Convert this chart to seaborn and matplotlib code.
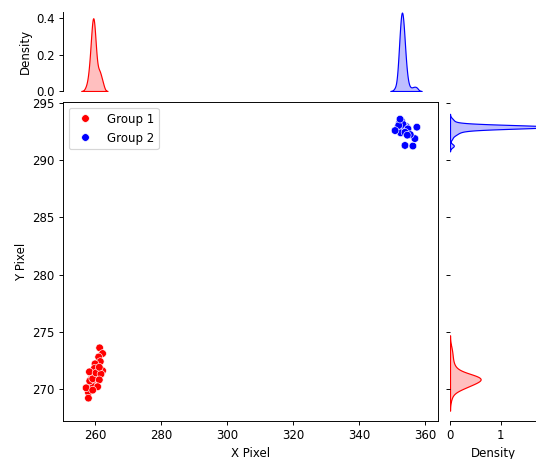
import pandas as pd
import matplotlib
matplotlib.use("Agg")
import matplotlib.pyplot as plt
import seaborn as sns

# =====================
# Data (pixel positions of two tracked groups)
# =====================
group_names = ["Group 1", "Group 2"]
group_colors = ["red", "blue"]

red_x = [259.5, 259.0, 259.8, 258.7, 259.3, 260.1, 259.6, 258.9, 259.4, 260.3,
         259.1, 259.7, 258.5, 259.9, 259.2, 260.0, 258.8, 259.5, 259.3, 260.5,
         259.0, 259.7, 258.6, 259.4, 260.2, 259.1, 259.8, 258.9, 259.6, 259.2,
         260.6, 259.5, 258.4, 259.9, 259.3,
         261.4, 262.3, 261.1, 261.6, 260.0, 259.8, 262.3, 258.3, 260.3, 261.8, 261.3,
         258.0, 257.3, 261.3, 258.0, 260.8, 259.3]
red_y = [271.0, 270.5, 270.9, 270.3, 271.1, 270.9, 270.4, 270.8, 271.0, 271.2,
         270.2, 271.0, 270.6, 270.5, 270.9, 271.1, 270.1, 270.8, 270.3, 271.0,
         270.9, 271.2, 270.4, 270.7, 270.8, 271.0, 270.3, 270.9, 271.1, 270.6,
         270.9, 270.2, 270.7, 271.0, 270.9,
         273.6, 273.1, 272.8, 272.4, 272.2, 271.8, 271.6, 271.5, 271.4, 271.3, 271.9,
         269.7, 270.1, 270.8, 269.2, 270.2, 269.9]

blue_x = [353.1, 352.4, 353.8, 352.9, 353.3, 351.9, 353.6, 352.7, 353.0, 354.2,
          352.2, 353.4, 352.8, 353.2, 352.5, 353.9, 352.6, 353.0, 353.5, 352.3,
          353.7, 352.9, 353.1, 352.0, 354.0, 352.7, 353.3, 352.5, 353.6, 352.8,
          353.2, 351.8, 354.3, 353.0, 352.6, 353.4, 352.1, 353.8, 352.9, 353.5,
          352.4, 353.1, 352.8, 353.3, 352.6, 353.0, 353.7, 352.3, 353.2, 352.9,
          352.2, 353.6, 352.9, 351.7, 354.4, 352.6, 353.3, 354.8, 352.0, 353.9,
          357.5, 353.9, 356.3, 356.9, 355.5, 354.6, 350.9, 352.4]
blue_y = [292.93, 292.95, 292.90, 292.97, 292.92, 292.94, 292.88, 292.96, 292.91, 292.93,
          292.89, 292.95, 292.92, 292.98, 292.90, 292.94, 292.87, 292.96, 292.91, 292.93,
          292.97, 292.89, 292.95, 292.92, 292.90, 292.94, 292.86, 292.99, 292.93, 292.91,
          292.95, 292.90, 292.96, 292.88, 292.93, 292.97, 292.92, 292.94, 292.90, 292.95,
          292.91, 292.93, 292.94, 292.92, 292.96, 292.90, 292.93, 292.95, 292.89, 292.92,
          293.25, 292.60, 293.40, 292.70, 292.55, 292.40, 293.15, 292.75, 293.05, 292.45,
          292.90, 291.30, 291.25, 291.90, 292.25, 292.20, 292.60, 293.60]

df = pd.concat([
    pd.DataFrame({"x": red_x, "y": red_y, "group": group_names[0]}),
    pd.DataFrame({"x": blue_x, "y": blue_y, "group": group_names[1]}),
], ignore_index=True)
palette = dict(zip(group_names, group_colors))

# =====================
# Layout: joint axes + two marginal axes
# =====================
W, H, DPI = 536, 459, 85
fig = plt.figure(figsize=(W / DPI, H / DPI), dpi=DPI)
ax = fig.add_axes([63 / W, 38 / H, 375 / W, 319 / H])
ax_top = fig.add_axes([63 / W, 368 / H, 375 / W, 79 / H], sharex=ax)
ax_right = fig.add_axes([450 / W, 38 / H, 86 / W, 319 / H], sharey=ax)

# joint scatter
sns.scatterplot(data=df, x="x", y="y", hue="group", palette=palette, s=42, ax=ax)
sns.move_legend(ax, "upper left", title=None)
ax.set_xlabel("X Pixel")
ax.set_ylabel("Y Pixel")
ax.set_xlim(250.3, 363.9)
ax.set_ylim(267.2, 295.1)

# marginal KDEs
sns.kdeplot(data=df, x="x", hue="group", palette=palette, fill=True,
            common_norm=False, legend=False, ax=ax_top)
sns.kdeplot(data=df, y="y", hue="group", palette=palette, fill=True,
            common_norm=False, legend=False, ax=ax_right)

ax_top.set_ylim(0, 0.433)
ax_top.set_yticks([0.0, 0.2, 0.4])
ax_top.set_xlabel("")
ax_top.set_ylabel("Density")
ax_top.tick_params(axis="x", bottom=False, labelbottom=False)
for s in ["top", "right", "bottom"]:
    ax_top.spines[s].set_visible(False)

ax_right.set_xlim(0, 1.69)
ax_right.set_xticks([0, 1])
ax_right.set_ylabel("")
ax_right.set_xlabel("Density")
ax_right.tick_params(axis="y", labelleft=False)
for s in ["top", "right", "left"]:
    ax_right.spines[s].set_visible(False)

plt.savefig("out.png", dpi=DPI)
plt.close()
